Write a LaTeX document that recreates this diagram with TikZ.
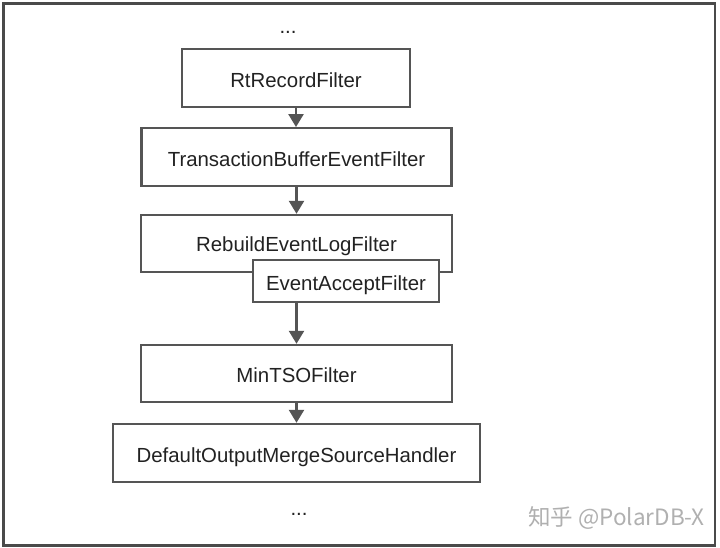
\documentclass[tikz,border=0pt]{standalone}
\usepackage{fontspec}
\setmainfont{Liberation Sans}
\newfontfamily\cjk{Noto Sans CJK SC}
\usetikzlibrary{arrows.meta}
\definecolor{edge}{HTML}{555555}
\definecolor{frame}{HTML}{4A4A4A}
\definecolor{txt}{HTML}{222222}
\definecolor{wm}{HTML}{B0B0B0}
\tikzset{
  box/.style={draw=edge, line width=2.4pt, fill=white, rectangle, inner sep=0pt,
    text=txt, font=\fontsize{20.4}{24}\selectfont, text height=18.5pt, text depth=0pt},
  arr/.style={draw=edge, line width=2.4pt, -{Triangle[width=15pt,length=13pt]}},
  dots/.style={text=txt, font=\fontsize{20.4}{24}\selectfont, inner sep=0pt}
}
\begin{document}
\begin{tikzpicture}[x=1pt,y=-1pt]
\useasboundingbox (0,0) rectangle (720,548);
\fill[white] (0,0) rectangle (720,548);
\draw[frame, line width=2.6pt] (3.5,3.5) rectangle (715,545.5);
\node[dots] (top) at (288,32) {...};
\node[box, minimum width=228pt, minimum height=58pt] (rt) at (296,78) {RtRecordFilter};
\node[box, minimum width=310pt, minimum height=57.5pt] (tb) at (296.5,157) {TransactionBufferEventFilter};
\node[box, minimum width=311pt, minimum height=57pt] (rb) at (296.5,243.5) {};
\node[text=txt, font=\fontsize{20.4}{24}\selectfont, inner sep=0pt] (rbt) at (296.5,246) {RebuildEventLogFilter};
\node[box, minimum width=186pt, minimum height=42pt] (ea) at (346,281) {EventAcceptFilter};
\node[box, minimum width=311pt, minimum height=57pt] (mt) at (296.5,373.5) {MinTSOFilter};
\node[box, minimum width=367pt, minimum height=58pt] (dh) at (296.5,453) {DefaultOutputMergeSourceHandler};
\node[dots] (bot) at (299,514) {...};
\node[text=wm, font=\cjk\fontsize{22.5}{26}\selectfont, inner sep=0pt, anchor=east] (wmk) at (705,518) {知乎 @PolarDB-X};
\draw[arr] (rt.south) -- (rt.south |- tb.north);
\draw[arr] (tb.south) -- (tb.south |- rb.north);
\draw[arr] (ea.south -| mt.north) -- (mt.north);
\draw[arr] (mt.south) -- (mt.south |- dh.north);
\end{tikzpicture}
\end{document}
